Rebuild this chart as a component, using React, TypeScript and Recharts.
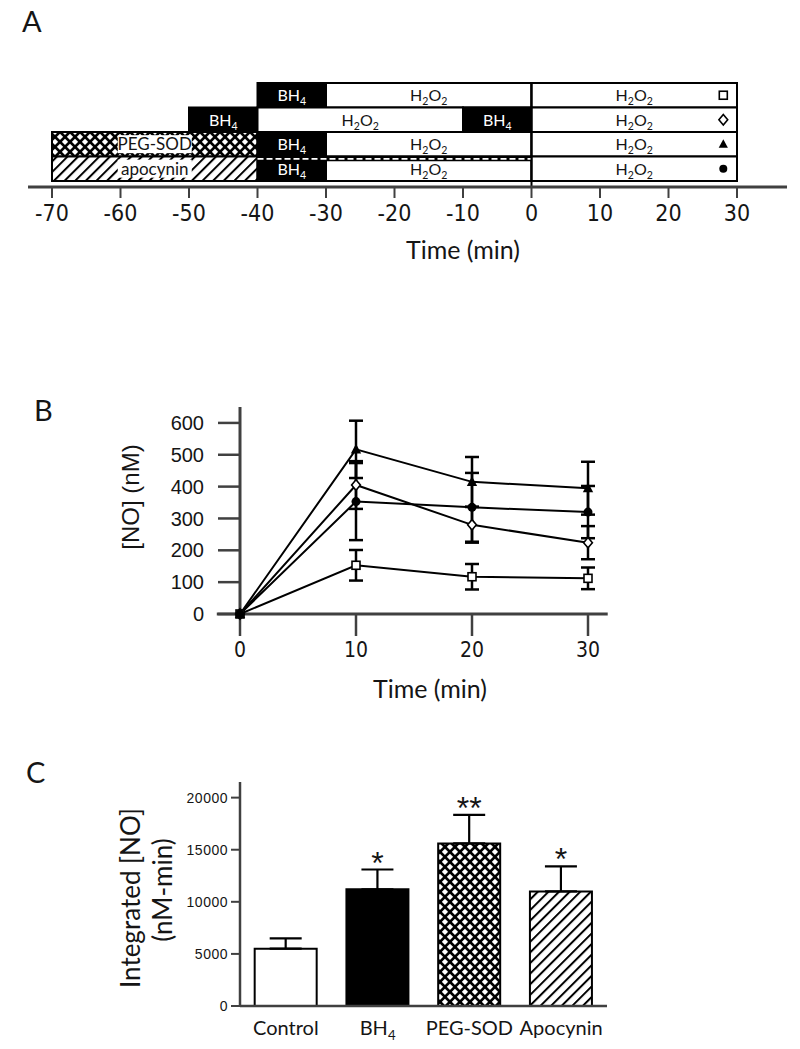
import React from 'react';
import {
  ScatterChart,
  Scatter,
  LineChart,
  Line,
  BarChart,
  Bar,
  Cell,
  XAxis,
  YAxis,
  ReferenceArea,
  ReferenceLine,
  ErrorBar,
  LabelList,
} from 'recharts';

// ---------- panel A: protocol timeline ----------
const protocolTicks = [-70, -60, -50, -40, -30, -20, -10, 0, 10, 20, 30];
const protocolRows = ['Control', 'BH4', 'PEG-SOD', 'Apocynin']; // top to bottom
const rowMarkers = ['square', 'diamond', 'triangle', 'circle'];
const segRow = [0, 0, 0, 1, 1, 1, 1, 2, 2, 2, 2, 3, 3, 3, 3];
const segStart = [-40, -30, 0, -50, -40, -10, 0, -70, -40, -30, 0, -70, -40, -30, 0];
const segEnd = [-30, 0, 30, -40, -10, 0, 30, -40, -30, 0, 30, -40, -30, 0, 30];
const segKind = [
  'BH4', 'H2O2', 'H2O2',
  'BH4', 'H2O2', 'BH4', 'H2O2',
  'PEG-SOD', 'BH4', 'H2O2', 'H2O2',
  'apocynin', 'BH4', 'H2O2', 'H2O2',
];
const markerTime = 28;
const apocyninBandRow = 3;
const apocyninBand = [-40, 0];

// ---------- panel B: [NO] time course ----------
const timePoints = [0, 10, 20, 30];
const controlNO = [0, 153, 117, 112];
const controlSEM = [0, 48, 40, 34];
const bh4NO = [0, 405, 280, 224];
const bh4SEM = [0, 75, 56, 52];
const pegSodNO = [0, 517, 415, 395];
const pegSodSEM = [0, 90, 78, 83];
const apocyninNO = [0, 353, 335, 320];
const apocyninSEM = [0, 121, 108, 82];
const noTicks = [0, 100, 200, 300, 400, 500, 600];
const timeTicks = [0, 10, 20, 30];

// ---------- panel C: integrated NO ----------
const groups = ['Control', 'BH4', 'PEG-SOD', 'Apocynin'];
const integratedNO = [5500, 11200, 15600, 11000];
const integratedSEM = [1000, 1900, 2750, 2400];
const significance = ['', '*', '**', '*'];
const integratedTicks = [0, 5000, 10000, 15000, 20000];

const NARROW = "'Liberation Sans Narrow', 'Arial Narrow', 'DejaVu Sans Condensed', sans-serif";
const SANS = "'Liberation Sans', Arial, sans-serif";
const HUMAN = "Lato, 'Open Sans', sans-serif";
const AXIS = '#404040';
const INK = '#151515';

const kindFill: Record<string, string> = {
  BH4: '#000',
  H2O2: '#fff',
  'PEG-SOD': 'url(#xhatch)',
  apocynin: 'url(#dhatch)',
};
const barFills = ['#fff', '#000', 'url(#xhatch)', 'url(#dhatch)'];

// digits after letters are drawn as subscripts (BH4, H2O2)
function Chem({ x, y, text, size, fill, family }: any) {
  const parts = String(text).split(/(\d)/).filter(Boolean);
  let low = false;
  return (
    <text x={x} y={y} fontSize={size} fill={fill} fontFamily={family} textAnchor="middle">
      {parts.map((p, i) => {
        const sub = /^\d$/.test(p) && i > 0;
        const dy = sub ? size * 0.25 : low ? -size * 0.25 : 0;
        low = sub;
        return (
          <tspan key={i} dy={dy} fontSize={sub ? size * 0.66 : size}>
            {p}
          </tspan>
        );
      })}
    </text>
  );
}

function Marker({ cx, cy, kind, size = 8 }: any) {
  if (cx == null || cy == null) return null;
  const h = size / 2;
  if (kind === 'square')
    return <rect x={cx - h} y={cy - h} width={size} height={size} fill="#fff" stroke="#000" strokeWidth={1.6} />;
  if (kind === 'diamond')
    return (
      <polygon
        points={`${cx},${cy - h * 1.3} ${cx + h * 1.1},${cy} ${cx},${cy + h * 1.3} ${cx - h * 1.1},${cy}`}
        fill="#fff"
        stroke="#000"
        strokeWidth={1.6}
      />
    );
  if (kind === 'triangle')
    return (
      <polygon
        points={`${cx},${cy - h * 1.25} ${cx + h * 1.15},${cy + h * 0.9} ${cx - h * 1.15},${cy + h * 0.9}`}
        fill="#000"
      />
    );
  return <circle cx={cx} cy={cy} r={h} fill="#000" />;
}

function PatternDefs() {
  return (
    <svg width={0} height={0} style={{ position: 'absolute' }}>
      <defs>
        <pattern id="xhatch" width={7.07} height={7.07} patternUnits="userSpaceOnUse" patternTransform="rotate(45)">
          <rect width={7.07} height={7.07} fill="#fff" />
          <rect width={7.07} height={2.6} fill="#000" />
          <rect width={2.6} height={7.07} fill="#000" />
        </pattern>
        <pattern id="dhatch" width={7.5} height={7.5} patternUnits="userSpaceOnUse" patternTransform="rotate(45)">
          <rect width={7.5} height={7.5} fill="#fff" />
          <rect width={2} height={7.5} fill="#000" />
        </pattern>
      </defs>
    </svg>
  );
}

function SegLabel(props: any) {
  const { cx, cy, payload } = props;
  const kind = payload.kind;
  if (kind === 'BH4') return <Chem x={cx} y={cy + 6} text="BH4" size={16} fill="#fff" family={HUMAN} />;
  if (kind === 'H2O2') return <Chem x={cx} y={cy + 6} text="H2O2" size={16} fill={INK} family={HUMAN} />;
  return (
    <g>
      <rect x={cx - 37} y={cy - 9} width={74} height={18} fill="#fff" />
      <text x={cx} y={cy + 6} textAnchor="middle" fontSize={17} fontFamily={HUMAN} fill={INK}>
        {kind}
      </text>
    </g>
  );
}

function ProtocolChart() {
  const n = protocolRows.length;
  const segments = segKind.map((kind, i) => ({
    kind,
    x1: segStart[i],
    x2: segEnd[i],
    y1: n - segRow[i] - 1,
    y2: n - segRow[i],
  }));
  const labelData = segments.map((s) => ({ t: (s.x1 + s.x2) / 2, y: (s.y1 + s.y2) / 2, kind: s.kind }));
  const markerData = protocolRows.map((_, i) => ({ t: markerTime, y: n - i - 0.5, kind: rowMarkers[i] }));
  const bandTop = n - apocyninBandRow;

  return (
    <ScatterChart width={800} height={280} margin={{ top: 83, right: 63, bottom: 63, left: 52 }}>
      <XAxis
        type="number"
        dataKey="t"
        domain={[-70, 30]}
        ticks={protocolTicks}
        interval={0}
        height={30}
        axisLine={false}
        tickSize={11}
        tickMargin={7}
        tickLine={{ stroke: AXIS, strokeWidth: 2 }}
        tick={{ fontSize: 23, fontFamily: NARROW, fill: INK }}
      />
      <YAxis type="number" dataKey="y" domain={[-0.25, n]} hide width={0} />
      {segments.map((s, i) => (
        <ReferenceArea
          key={i}
          x1={s.x1}
          x2={s.x2}
          y1={s.y1}
          y2={s.y2}
          fill={kindFill[s.kind]}
          fillOpacity={1}
          stroke="#000"
          strokeWidth={2}
        />
      ))}
      <ReferenceArea
        x1={apocyninBand[0]}
        x2={apocyninBand[1]}
        y1={bandTop - 0.2}
        y2={bandTop}
        fill="#000"
        fillOpacity={1}
        stroke="none"
      />
      <ReferenceLine
        segment={[
          { x: apocyninBand[0], y: bandTop - 0.1 },
          { x: apocyninBand[1], y: bandTop - 0.1 },
        ]}
        stroke="#fff"
        strokeWidth={1.6}
        strokeDasharray="6 3"
      />
      <ReferenceLine
        segment={[
          { x: 0, y: -0.25 },
          { x: 0, y: n },
        ]}
        stroke="#000"
        strokeWidth={2}
        ifOverflow="visible"
      />
      <ReferenceLine
        segment={[
          { x: -73.5, y: -0.25 },
          { x: 37.3, y: -0.25 },
        ]}
        stroke={AXIS}
        strokeWidth={3}
        ifOverflow="visible"
      />
      <Scatter data={labelData} shape={SegLabel} isAnimationActive={false} />
      <Scatter
        data={markerData}
        shape={(p: any) => <Marker cx={p.cx} cy={p.cy} kind={p.payload.kind} size={8} />}
        isAnimationActive={false}
      />
    </ScatterChart>
  );
}

function TimeCourseChart() {
  const data = timePoints.map((t, i) => ({
    t,
    control: controlNO[i],
    controlErr: controlSEM[i],
    bh4: bh4NO[i],
    bh4Err: bh4SEM[i],
    pegSod: pegSodNO[i],
    pegSodErr: pegSodSEM[i],
    apocynin: apocyninNO[i],
    apocyninErr: apocyninSEM[i],
  }));
  const series = [
    { key: 'control', kind: 'square', size: 8 },
    { key: 'bh4', kind: 'diamond', size: 8 },
    { key: 'apocynin', kind: 'circle', size: 9 },
    { key: 'pegSod', kind: 'triangle', size: 9 },
  ];

  return (
    <LineChart width={800} height={330} data={data} margin={{ top: 37, right: 212, bottom: 26, left: 140 }}>
      <XAxis
        type="number"
        dataKey="t"
        domain={[0, 30]}
        ticks={timeTicks}
        interval={0}
        height={60}
        axisLine={false}
        tickSize={22}
        tickMargin={6}
        tickLine={{ stroke: AXIS, strokeWidth: 2.5 }}
        tick={{ fontSize: 21, fontFamily: NARROW, fill: INK }}
      />
      <YAxis
        type="number"
        domain={[0, 650]}
        ticks={noTicks}
        interval={0}
        width={100}
        tickSize={22}
        tickMargin={14}
        axisLine={{ stroke: AXIS, strokeWidth: 3 }}
        tickLine={{ stroke: AXIS, strokeWidth: 2.5 }}
        tick={{ fontSize: 20, fontFamily: SANS, fill: INK }}
      />
      <ReferenceLine
        segment={[
          { x: -2, y: 0 },
          { x: 31.7, y: 0 },
        ]}
        stroke={AXIS}
        strokeWidth={3}
        ifOverflow="visible"
      />
      {series.map((s) => (
        <Line
          key={s.key}
          type="linear"
          dataKey={s.key}
          stroke="#000"
          strokeWidth={2}
          isAnimationActive={false}
          activeDot={false}
          dot={(p: any) => <Marker key={`${s.key}-${p.index}`} cx={p.cx} cy={p.cy} kind={s.kind} size={s.size} />}
        >
          <ErrorBar dataKey={`${s.key}Err`} width={7} stroke="#000" strokeWidth={2.5} direction="y" />
        </Line>
      ))}
    </LineChart>
  );
}

function BarTick(props: any) {
  const { x, y, payload } = props;
  return <Chem x={x} y={y + 29} text={payload.value} size={20} fill={INK} family={HUMAN} />;
}

function StarLabel(props: any) {
  const { x, y, width, height, index, value } = props;
  if (!value) return null;
  const pxPerUnit = Number(height) / integratedNO[index];
  const capY = Number(y) - integratedSEM[index] * pxPerUnit;
  return (
    <text x={Number(x) + Number(width) / 2} y={capY + 4} textAnchor="middle" fontSize={32} fontFamily={SANS} fill={INK}>
      {value}
    </text>
  );
}

function IntegratedChart() {
  const data = groups.map((g, i) => ({
    group: g,
    value: integratedNO[i],
    err: [0, integratedSEM[i]],
    star: significance[i],
  }));
  return (
    <BarChart
      width={800}
      height={289}
      data={data}
      margin={{ top: 22, right: 193, bottom: 8, left: 180 }}
      barCategoryGap="16%"
    >
      <XAxis
        dataKey="group"
        height={35}
        interval={0}
        tickLine={false}
        tickSize={0}
        tickMargin={0}
        axisLine={{ stroke: AXIS, strokeWidth: 2.5 }}
        tick={BarTick}
      />
      <YAxis
        type="number"
        domain={[0, 21500]}
        ticks={integratedTicks}
        interval={0}
        width={60}
        tickSize={9}
        tickMargin={3}
        axisLine={{ stroke: AXIS, strokeWidth: 2.5 }}
        tickLine={{ stroke: AXIS, strokeWidth: 2 }}
        tick={{ fontSize: 14, fontFamily: SANS, fill: INK, letterSpacing: 0.5 }}
      />
      <Bar dataKey="value" stroke="#000" strokeWidth={2} isAnimationActive={false}>
        {data.map((d, i) => (
          <Cell key={d.group} fill={barFills[i]} />
        ))}
        <ErrorBar dataKey="err" width={16} stroke="#000" strokeWidth={2.2} direction="y" />
        <LabelList dataKey="star" content={StarLabel} />
      </Bar>
    </BarChart>
  );
}

export default function App() {
  return (
    <div style={{ position: 'absolute', left: 0, top: 0, width: 800, height: 1049, background: '#fff', overflow: 'hidden' }}>
      <PatternDefs />
      <div style={{ position: 'absolute', left: 0, top: 0 }}>
        <ProtocolChart />
      </div>
      <div style={{ position: 'absolute', left: 0, top: 370 }}>
        <TimeCourseChart />
      </div>
      <div style={{ position: 'absolute', left: 0, top: 760 }}>
        <IntegratedChart />
      </div>
      <svg width={800} height={1049} style={{ position: 'absolute', left: 0, top: 0, pointerEvents: 'none' }}>
        <g fill={INK}>
          <text x={22} y={32} fontSize={29} fontFamily={HUMAN}>A</text>
          <text x={463} y={259} fontSize={25} fontFamily={HUMAN} textAnchor="middle">Time (min)</text>
          <text x={34} y={421} fontSize={29} fontFamily={HUMAN}>B</text>
          <text x={130} y={497} fontSize={24} fontFamily={SANS} textAnchor="middle" dominantBaseline="central" transform="rotate(-90 130 497)">
            [NO] (nM)
          </text>
          <text x={430} y={698} fontSize={25} fontFamily={HUMAN} textAnchor="middle">Time (min)</text>
          <text x={26} y={783} fontSize={29} fontFamily={HUMAN}>C</text>
          <text x={130} y={898} fontSize={26} fontFamily={HUMAN} textAnchor="middle" dominantBaseline="central" transform="rotate(-90 130 898)">
            Integrated [NO]
          </text>
          <text x={162} y={890} fontSize={26} fontFamily={HUMAN} textAnchor="middle" dominantBaseline="central" transform="rotate(-90 162 890)">
            (nM-min)
          </text>
        </g>
      </svg>
    </div>
  );
}
